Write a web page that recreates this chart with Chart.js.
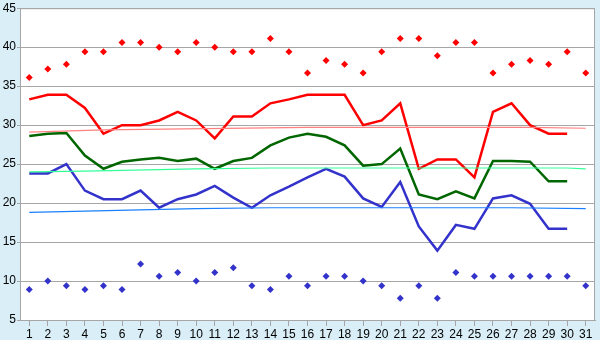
<!DOCTYPE html>
<html>
<head>
<meta charset="utf-8">
<script src="https://cdn.jsdelivr.net/npm/chart.js@4"></script>
<style>
  body { margin: 0; background: #d9eef6; }
  #wrap { width: 600px; height: 340px; }
</style>
</head>
<body>
<div id="wrap"><canvas id="tempChart" width="600" height="340"></canvas></div>
<script>
const days = ['1','2','3','4','5','6','7','8','9','10','11','12','13','14','15','16','17','18','19','20','21','22','23','24','25','26','27','28','29','30','31'];

const recordHigh = [36.1, 37.2, 37.8, 39.4, 39.4, 40.6, 40.6, 40.0, 39.4, 40.6, 40.0, 39.4, 39.4, 41.1, 39.4, 36.7, 38.3, 37.8, 36.7, 39.4, 41.1, 41.1, 38.9, 40.6, 40.6, 36.7, 37.8, 38.3, 37.8, 39.4, 36.7];
const avgHigh = [33.3, 33.9, 33.9, 32.2, 28.9, 30.0, 30.0, 30.6, 31.7, 30.6, 28.3, 31.1, 31.1, 32.8, 33.3, 33.9, 33.9, 33.9, 30.0, 30.6, 32.8, 24.4, 25.6, 25.6, 23.3, 31.7, 32.8, 30.0, 28.9, 28.9, null];
const meanTemp = [28.6, 28.9, 29.0, 26.1, 24.4, 25.3, 25.6, 25.8, 25.4, 25.7, 24.4, 25.4, 25.8, 27.4, 28.4, 28.9, 28.5, 27.4, 24.8, 25.0, 27.0, 21.1, 20.5, 21.5, 20.6, 25.4, 25.4, 25.3, 22.8, 22.8, null];
const avgLow = [23.8, 23.8, 25.0, 21.6, 20.5, 20.5, 21.6, 19.4, 20.5, 21.1, 22.2, 20.7, 19.4, 21.0, 22.1, 23.3, 24.4, 23.4, 20.6, 19.5, 22.7, 17.0, 13.9, 17.2, 16.7, 20.6, 21.0, 19.9, 16.7, 16.7, null];
const recordLow = [8.9, 10.0, 9.4, 8.9, 9.4, 8.9, 12.2, 10.6, 11.1, 10.0, 11.1, 11.7, 9.4, 8.9, 10.6, 9.4, 10.6, 10.6, 10.0, 9.4, 7.8, 9.4, 7.8, 11.1, 10.6, 10.6, 10.6, 10.6, 10.6, 10.6, 9.4];

// thin normal lines, read at a few days only
const normalHigh = [29.1, null, null, null, 29.4, null, null, null, null, null, null, null, null, null, null, 29.7, null, null, null, null, null, null, null, null, null, null, null, 29.7, null, null, 29.6];
const normalMean = [24.0, null, null, 24.1, null, null, null, null, null, 24.4, null, null, null, 24.5, null, null, null, null, null, null, null, null, null, null, null, null, null, null, null, 24.5, 24.4];
const normalLow = [18.8, null, null, null, null, null, null, null, null, 19.3, null, null, null, 19.4, null, null, null, null, null, null, null, null, null, null, null, null, 19.4, null, null, null, 19.3];

const yMin = 5;
const yMax = 45;
const yStep = 5;

// white plot area with grey frame
const plotFrame = {
  id: 'plotFrame',
  beforeDraw(chart) {
    const a = chart.chartArea;
    const ctx = chart.ctx;
    ctx.save();
    ctx.fillStyle = '#ffffff';
    ctx.fillRect(a.left, a.top, a.right - a.left, a.bottom - a.top);
    ctx.restore();
  },
  afterDraw(chart) {
    const a = chart.chartArea;
    const ctx = chart.ctx;
    ctx.save();
    ctx.strokeStyle = '#a6a6a6';
    ctx.lineWidth = 1;
    ctx.strokeRect(a.left + 0.5, a.top + 0.5, a.right - a.left - 1, a.bottom - a.top);
    ctx.restore();
  }
};

function lineSet(data, color, width) {
  return {
    type: 'line',
    data: data,
    borderColor: color,
    backgroundColor: color,
    borderWidth: width,
    pointRadius: 0,
    tension: 0,
    spanGaps: true
  };
}

function dotSet(data, color) {
  return {
    type: 'line',
    data: data,
    showLine: false,
    pointStyle: 'rectRot',
    pointRadius: 3.5,
    borderColor: color,
    backgroundColor: color,
    borderWidth: 0
  };
}

const tickFont = { family: 'Liberation Sans', size: 12 };

const ctx = document.getElementById('tempChart').getContext('2d');
new Chart(ctx, {
  type: 'line',
  data: {
    labels: days,
    datasets: [
      lineSet(normalHigh, '#ff8080', 1.2),
      lineSet(normalMean, '#33ff99', 1.2),
      lineSet(normalLow, '#1a80ff', 1.2),
      lineSet(avgHigh, '#ff0000', 2.5),
      lineSet(meanTemp, '#006600', 2.5),
      lineSet(avgLow, '#3333cc', 2.5),
      dotSet(recordHigh, '#ff0000'),
      dotSet(recordLow, '#3333cc')
    ]
  },
  options: {
    responsive: false,
    animation: false,
    layout: { padding: { top: 5, right: 5, bottom: 0, left: 0 } },
    plugins: {
      legend: { display: false },
      tooltip: { enabled: false }
    },
    scales: {
      x: {
        offset: true,
        grid: { offset: false, drawOnChartArea: false, drawTicks: true, tickLength: 6, color: '#a6a6a6' },
        border: { color: '#a6a6a6' },
        ticks: { color: '#000', padding: 1, maxRotation: 0, autoSkip: false, font: tickFont },
        afterFit(scale) { scale.height = 20; }
      },
      y: {
        min: yMin,
        max: yMax,
        grid: { color: '#a6a6a6', tickLength: 3 },
        border: { color: '#a6a6a6' },
        ticks: { stepSize: yStep, color: '#000', padding: 1, font: tickFont },
        afterFit(scale) { scale.width = 20; }
      }
    }
  },
  plugins: [plotFrame]
});
</script>
</body>
</html>
